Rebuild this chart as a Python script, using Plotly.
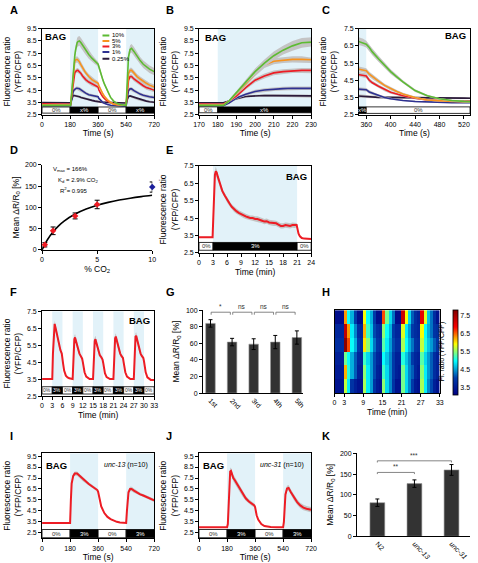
import plotly.graph_objects as go

W, H = 478, 563
FONT = "Liberation Sans, Arial, sans-serif"
SHADE = "#e2f2f9"
BANDC = "#c4c4c4"

# ---------------- Panels A-C : CO2 steps (time in s) ----------------
A_t = [0, 100, 170, 180, 183, 186, 190, 195, 200, 205, 210, 215, 220, 225, 230, 240, 250, 260, 280, 300, 320, 340,
       355, 360, 365, 370, 380, 390, 400, 410, 420, 440, 460, 480, 500, 520, 540, 545, 550, 555, 565, 575, 590,
       610, 630, 650, 670, 690, 720]
A_green = [3.25, 3.25, 3.22, 3.2, 3.25, 3.6, 4.3, 5.2, 6.0, 6.7, 7.3, 7.75, 8.1, 8.35, 8.45, 8.5, 8.35, 8.15, 7.75, 7.4, 7.1, 6.85,
           6.7, 6.6, 6.4, 6.15, 5.75, 5.35, 5.0, 4.7, 4.4, 3.9, 3.6, 3.42, 3.32, 3.27, 3.25, 4.6, 6.2, 7.2, 7.8, 7.9, 7.65,
           7.25, 6.9, 6.6, 6.4, 6.2, 6.0]
A_orange = [3.3, 3.3, 3.3, 3.3, 3.3, 3.6, 4.2, 5.0, 5.85, 6.55, 6.85, 6.95, 7.0, 7.0, 6.95, 6.8, 6.55, 6.3, 5.9, 5.6, 5.35, 5.2,
            5.1, 5.05, 4.85, 4.7, 4.45, 4.2, 4.0, 3.85, 3.7, 3.5, 3.35, 3.3, 3.27, 3.25, 3.25, 4.1, 5.3, 5.85, 6.1, 6.1, 5.9,
            5.6, 5.4, 5.2, 5.05, 4.9, 4.75]
A_red = [3.38, 3.38, 3.36, 3.35, 3.35, 3.6, 4.0, 4.7, 5.3, 5.65, 5.9, 6.0, 6.08, 6.1, 6.1, 6.0, 5.85, 5.65, 5.35, 5.15, 5.0, 4.88,
         4.8, 4.75, 4.5, 4.35, 4.15, 3.95, 3.8, 3.7, 3.6, 3.45, 3.36, 3.32, 3.3, 3.3, 3.3, 3.9, 4.8, 5.3, 5.6, 5.6, 5.4,
         5.2, 5.0, 4.85, 4.7, 4.6, 4.5]
A_blue = [3.22, 3.22, 3.2, 3.2, 3.22, 3.45, 3.85, 4.15, 4.38, 4.5, 4.58, 4.62, 4.65, 4.65, 4.65, 4.6, 4.52, 4.42, 4.25, 4.12, 4.05, 4.0,
          3.97, 3.95, 3.82, 3.75, 3.6, 3.5, 3.42, 3.36, 3.32, 3.26, 3.23, 3.21, 3.2, 3.2, 3.2, 3.6, 4.15, 4.45, 4.6, 4.6, 4.45,
          4.3, 4.17, 4.07, 4.0, 3.95, 3.9]
A_black = [3.48, 3.48, 3.46, 3.45, 3.46, 3.6, 3.8, 3.98, 4.05, 4.06, 4.05, 4.04, 4.02, 4.0, 3.98, 3.95, 3.9, 3.86, 3.78, 3.72, 3.66, 3.6,
           3.56, 3.54, 3.52, 3.51, 3.5, 3.5, 3.5, 3.5, 3.5, 3.49, 3.48, 3.47, 3.47, 3.46, 3.45, 3.65, 3.88, 3.98, 4.02, 3.98, 3.88,
           3.78, 3.7, 3.64, 3.6, 3.55, 3.5]
A_green_sem = [0.05] * 5 + [0.1, 0.15, 0.2, 0.25, 0.3] + [0.35, 0.35, 0.4, 0.4, 0.4, 0.4] + [0.4, 0.4, 0.38, 0.35, 0.3, 0.25, 0.22] + \
              [0.2, 0.2, 0.2, 0.18, 0.16, 0.14, 0.12, 0.1] + [0.08, 0.06, 0.05, 0.05, 0.05, 0.05] + \
              [0.15, 0.3, 0.35, 0.35, 0.35, 0.35] + [0.32, 0.3, 0.3, 0.3, 0.3, 0.3]
A_orange_sem = [0.05] * 5 + [0.1, 0.15, 0.2, 0.22, 0.25] + [0.25] * 6 + [0.25, 0.25, 0.22, 0.2, 0.2, 0.18, 0.16] + \
               [0.15, 0.15, 0.14, 0.12, 0.1, 0.09, 0.08, 0.07] + [0.06, 0.05, 0.05, 0.05, 0.05, 0.05] + \
               [0.12, 0.2, 0.22, 0.22, 0.22, 0.22] + [0.2] * 6
A_red_sem = [0.05] * 5 + [0.1, 0.12, 0.15, 0.18, 0.2] + [0.2] * 6 + [0.2, 0.2, 0.2, 0.18, 0.18, 0.16, 0.15] + \
            [0.14, 0.13, 0.12, 0.1, 0.09, 0.08, 0.07, 0.06] + [0.05] * 6 + [0.1, 0.15, 0.18, 0.18, 0.18, 0.18] + [0.17] * 6
A_blue_sem = [0.04] * 5 + [0.08, 0.1, 0.12, 0.15, 0.15] + [0.15] * 6 + [0.15, 0.15, 0.14, 0.13, 0.12, 0.12, 0.11] + \
             [0.1, 0.1, 0.09, 0.08, 0.07, 0.06, 0.05, 0.05] + [0.04] * 6 + [0.08, 0.12, 0.14, 0.14, 0.14, 0.14] + [0.13] * 6
A_black_sem = [0.04] * 5 + [0.06, 0.08, 0.1, 0.1, 0.1] + [0.1] * 6 + [0.1] * 7 + [0.08] * 8 + [0.05] * 6 + \
              [0.06, 0.08, 0.1, 0.1, 0.1, 0.1] + [0.09] * 6
A_names = ["10%", "5%", "3%", "1%", "0.25%"]

A_stim_edges = [0, 180, 360, 540, 720]
A_stim_labels = ["0%", "x%", "0%", "x%"]
B_stim_edges = [170, 180, 230]
B_stim_labels = ["0%", "x%"]
C_stim_edges = [348, 360, 530]
C_stim_labels = ["x%", "0%"]

# ---------------- Panel D : dose response ----------------
D_x = [0.25, 1, 3, 5]
D_y = [12, 45, 80, 107]
D_err = [5, 9, 7, 10]
D_x10 = [10]
D_y10 = [148]
D_err10 = [12]
D_fit_x = [0, 0.25, 0.5, 1, 1.5, 2, 3, 4, 5, 6, 7, 8, 9, 10]
D_fit_y = [0, 13.2, 24.4, 42.6, 56.7, 67.8, 84.4, 96.2, 105.1, 111.9, 117.4, 121.8, 125.5, 128.7]

# ---------------- Panel E : long 3% step (min) ----------------
E_t = [0, 2.9, 3.05, 3.2, 3.4, 3.6, 3.8, 4.0, 4.3, 4.6,
       5.0, 5.5, 6.0, 6.5, 7.0, 7.5, 8.0, 8.5, 9.0, 9.5, 10.0, 10.5, 11.0, 11.5, 12.0, 12.5, 13.0, 13.5, 14.0, 14.5,
       15.0, 15.5, 16.0, 16.5, 17.0, 17.5, 18.0, 18.5, 19.0, 19.5, 20.0, 20.5,
       20.9, 21.1, 21.3, 21.6, 22.0, 22.5, 24.0]
E_v = [3.4, 3.4, 4.5, 6.2, 7.0, 7.2, 7.1, 6.9, 6.6, 6.3,
       6.05, 5.8, 5.55, 5.35, 5.15, 5.0, 4.9, 4.8, 4.72, 4.65, 4.6, 4.55, 4.5, 4.5, 4.45, 4.45, 4.38, 4.35, 4.3, 4.32,
       4.25, 4.22, 4.2, 4.2, 4.12, 4.05, 4.05, 4.1, 4.08, 4.05, 4.1, 4.08,
       4.1, 3.85, 3.6, 3.45, 3.35, 3.32, 3.3]
E_sem = [0.03, 0.03, 0.1, 0.2, 0.25, 0.25, 0.22, 0.2, 0.18, 0.16] + [0.15] * 32 + [0.12, 0.1, 0.08, 0.05, 0.04, 0.03, 0.03]
E_stim_edges = [0, 3, 21, 24]
E_stim_labels = ["0%", "3%", "0%"]

# ---------------- Panel F : repeated pulses (min) ----------------
F_t = [0, 2.9, 3.0, 3.2, 3.5, 3.7, 4.0, 4.5, 5.0, 5.4, 5.8, 6.0, 6.2, 6.5, 7.0, 7.5, 8.0, 9.0,
       9.2, 9.5, 9.7, 10.0, 10.5, 11.0, 11.4, 11.8, 12.0, 12.2, 12.5, 13.0, 13.5, 14.0, 15.0,
       15.2, 15.5, 15.7, 16.0, 16.5, 17.0, 17.4, 17.8, 18.0, 18.2, 18.5, 19.0, 19.5, 20.0, 21.0,
       21.2, 21.5, 21.7, 22.0, 22.5, 23.0, 23.4, 23.8, 24.0, 24.2, 24.5, 25.0, 25.5, 26.0, 27.0,
       27.2, 27.5, 27.7, 28.0, 28.5, 29.0, 29.4, 29.8, 30.0, 30.2, 30.5, 31.0, 31.5, 32.0, 33.0]
F_v = [3.5, 3.5, 3.5, 5.0, 6.6, 6.75, 6.5, 5.95, 5.45, 5.2, 5.0, 4.8, 4.4, 4.0, 3.7, 3.6, 3.55, 3.5,
       4.8, 5.85, 5.95, 5.7, 5.3, 5.0, 4.85, 4.7, 4.5, 4.2, 3.9, 3.65, 3.55, 3.5, 3.5,
       4.8, 5.75, 5.85, 5.6, 5.2, 4.9, 4.8, 4.65, 4.45, 4.15, 3.85, 3.62, 3.55, 3.5, 3.5,
       4.9, 5.9, 6.0, 5.75, 5.3, 5.0, 4.85, 4.75, 4.5, 4.2, 3.9, 3.65, 3.55, 3.5, 3.5,
       5.0, 6.0, 6.05, 5.8, 5.3, 5.0, 4.85, 4.75, 4.55, 4.2, 3.9, 3.6, 3.5, 3.45, 3.45]
F_sem = [0.03, 0.03, 0.03, 0.1, 0.2, 0.2, 0.18, 0.15, 0.12, 0.1, 0.1, 0.1, 0.08, 0.06, 0.04, 0.03, 0.03, 0.03,
         0.1, 0.2, 0.2, 0.18, 0.15, 0.12, 0.1, 0.1, 0.1, 0.08, 0.06, 0.04, 0.03, 0.03, 0.03,
         0.1, 0.2, 0.2, 0.18, 0.15, 0.12, 0.1, 0.1, 0.1, 0.08, 0.06, 0.04, 0.03, 0.03, 0.03,
         0.1, 0.2, 0.2, 0.18, 0.15, 0.12, 0.1, 0.1, 0.1, 0.08, 0.06, 0.04, 0.03, 0.03, 0.03,
         0.1, 0.2, 0.2, 0.18, 0.15, 0.12, 0.1, 0.1, 0.1, 0.08, 0.06, 0.04, 0.03, 0.03, 0.03]
F_stim_edges = [0, 3, 6, 9, 12, 15, 18, 21, 24, 27, 30, 33]
F_stim_labels = ["0%", "3%", "0%", "3%", "0%", "3%", "0%", "3%", "0%", "3%", "0%"]

# ---------------- Panel G : pulse responses ----------------
G_labels = ["1st", "2nd", "3rd", "4th", "5th"]
G_vals = [84, 61.5, 59, 61.5, 67]
G_err = [4.5, 4.5, 6.5, 8, 8]
G_sig = [(0, 1, "*"), (1, 2, "ns"), (2, 3, "ns"), (3, 4, "ns")]

# ---------------- Panel H : heatmap (min) ----------------
H_edges = list(range(34))
H_z = [
    [3.3, 3.3, 3.3, 6.3, 5.0, 4.6, 4.0, 3.3, 3.3, 5.9, 5.0, 4.6, 4.0, 3.3, 3.3, 6.6, 5.4, 4.8, 4.3, 3.3, 3.3, 7.2, 5.9, 4.8, 4.2, 3.8, 3.6, 7.0, 5.8, 4.7, 4.3, 3.8, 3.4],
    [3.7, 3.7, 3.7, 7.3, 6.3, 4.9, 4.4, 3.8, 3.7, 6.2, 5.2, 4.7, 4.1, 3.8, 3.7, 5.5, 5.0, 4.6, 4.0, 3.7, 3.7, 5.8, 4.9, 4.5, 4.0, 3.8, 3.7, 5.9, 5.0, 4.6, 4.3, 3.9, 3.8],
    [3.8, 3.8, 3.8, 7.7, 6.6, 5.0, 4.6, 4.0, 3.8, 6.0, 5.5, 4.8, 4.3, 3.9, 3.8, 5.3, 4.9, 4.5, 4.1, 3.8, 3.8, 5.6, 5.0, 4.6, 4.3, 3.9, 3.8, 5.7, 5.1, 4.7, 4.5, 4.2, 3.9],
    [3.6, 3.6, 3.6, 5.4, 5.0, 4.6, 4.2, 3.7, 3.6, 5.2, 4.8, 4.5, 4.1, 3.7, 3.6, 5.0, 4.7, 4.4, 4.0, 3.6, 3.6, 5.1, 4.7, 4.4, 4.0, 3.7, 3.6, 5.3, 4.8, 4.5, 4.2, 3.8, 3.6],
    [3.5, 3.5, 3.5, 6.2, 5.1, 4.6, 4.2, 3.6, 3.5, 5.5, 4.9, 4.5, 4.1, 3.6, 3.5, 5.2, 4.8, 4.4, 4.0, 3.6, 3.5, 5.4, 4.8, 4.4, 4.2, 3.7, 3.5, 5.5, 4.9, 4.5, 4.2, 3.8, 3.6],
    [3.4, 3.4, 3.4, 5.7, 4.9, 3.9, 3.6, 3.4, 3.4, 5.6, 4.9, 4.5, 3.9, 3.5, 3.4, 5.5, 4.8, 4.4, 3.9, 3.4, 3.4, 5.4, 4.8, 4.4, 4.0, 3.5, 3.4, 5.6, 4.9, 4.4, 4.1, 3.6, 3.4],
]
H_rows = [1, 2, 3, 4, 5, 6]
H_ticks = [0, 3, 9, 15, 21, 27, 33]
H_cbar_ticks = [3.5, 4.5, 5.5, 6.5, 7.5]

# ---------------- Panels I, J : mutants (s) ----------------
I_t = [0, 178, 180, 185, 190, 200, 210, 225, 240, 260, 280, 300, 320, 340, 355, 360, 365, 370, 380, 400, 420, 440,
       460, 480, 500, 520, 538, 540, 545, 550, 555, 565, 575, 590, 610, 630, 650, 670, 690, 720]
I_v = [3.4, 3.4, 3.4, 5.5, 7.0, 7.7, 7.9, 7.9, 7.7, 7.4, 7.15, 6.95, 6.75, 6.55, 6.4, 6.25, 5.85, 5.45, 4.9, 4.3, 3.95, 3.75,
       3.6, 3.5, 3.45, 3.42, 3.4, 3.4, 4.5, 5.6, 6.2, 6.5, 6.5, 6.35, 6.15, 6.0, 5.9, 5.78, 5.65, 5.45]
I_sem = [0.03, 0.03, 0.03, 0.1, 0.15, 0.2, 0.2, 0.2, 0.2, 0.18, 0.16, 0.15, 0.15, 0.14, 0.13, 0.12, 0.1, 0.1, 0.08, 0.07, 0.06, 0.05,
         0.04, 0.04, 0.03, 0.03, 0.03, 0.03, 0.1, 0.15, 0.2, 0.2, 0.2, 0.2, 0.18, 0.16, 0.15, 0.15, 0.15, 0.15]
J_t = [0, 178, 180, 185, 190, 195, 200, 205, 210, 220, 230, 240, 260, 280, 300, 320, 340, 355, 360, 365, 370, 380, 400,
       420, 440, 460, 500, 538, 540, 545, 550, 555, 565, 575, 590, 610, 630, 650, 670, 690, 720]
J_v = [3.0, 3.0, 3.0, 3.3, 5.5, 7.3, 8.1, 8.15, 7.9, 7.5, 7.3, 7.05, 6.55, 6.05, 5.65, 5.35, 5.15, 5.0, 4.85, 4.45, 4.1, 3.7, 3.3,
       3.12, 3.05, 3.02, 3.0, 3.0, 3.0, 3.5, 5.0, 6.0, 6.55, 6.6, 6.2, 5.7, 5.3, 5.0, 4.8, 4.7, 4.6]
J_sem = [0.03, 0.03, 0.03, 0.1, 0.2, 0.3, 0.3, 0.3, 0.3, 0.3, 0.3, 0.3, 0.28, 0.25, 0.22, 0.2, 0.2, 0.18, 0.16, 0.12, 0.1, 0.08, 0.05,
         0.04, 0.03, 0.03, 0.03, 0.03, 0.03, 0.1, 0.2, 0.25, 0.25, 0.25, 0.25, 0.25, 0.25, 0.25, 0.25, 0.25, 0.25]
IJ_stim_edges = [0, 180, 360, 540, 720]
IJ_stim_labels = ["0%", "3%", "0%", "3%"]

# ---------------- Panel K : mutant response amplitudes ----------------
K_labels = ["N2", "<i>unc-13</i>", "<i>unc-31</i>"]
K_vals = [81, 127, 160]
K_err = [9, 9, 13]
K_sig = [(0, 1, "**", 154), (0, 2, "***", 182)]

# sanity checks
for s in (A_green, A_orange, A_red, A_blue, A_black, A_green_sem, A_orange_sem, A_red_sem, A_blue_sem, A_black_sem):
    assert len(s) == len(A_t), len(s)
assert len(E_v) == len(E_t) == len(E_sem)
assert len(F_v) == len(F_t) == len(F_sem)
assert len(I_v) == len(I_t) == len(I_sem)
assert len(J_v) == len(J_t) == len(J_sem)

# =====================================================================
fig = go.Figure()
layout_axes = {}
shapes = []
annotations = []


def ref(i, k):
    return k if i == 1 else f"{k}{i}"


def px(x, y):
    return x / W, 1 - y / H


def ttl(text, standoff=3, size=8.5):
    return dict(text=text, font=dict(size=size, family=FONT, color="black"), standoff=standoff)


def set_axes(i, xpx, ypx, xopts, yopts, framed=True):
    base = dict(showline=True, linecolor="black", linewidth=0.8, ticks="outside", ticklen=3, tickwidth=0.8,
                tickcolor="black", showgrid=False, zeroline=False, mirror=framed,
                tickfont=dict(size=7, family=FONT, color="black"))
    xa = dict(base, domain=[xpx[0] / W, xpx[1] / W], anchor=ref(i, "y"))
    xa.update(xopts)
    ya = dict(base, domain=[1 - ypx[1] / H, 1 - ypx[0] / H], anchor=ref(i, "x"))
    ya.update(yopts)
    layout_axes["xaxis" if i == 1 else f"xaxis{i}"] = xa
    layout_axes["yaxis" if i == 1 else f"yaxis{i}"] = ya


def band(i, x, y, s, color=BANDC):
    up = [a + b for a, b in zip(y, s)]
    lo = [a - b for a, b in zip(y, s)]
    fig.add_trace(go.Scatter(x=list(x) + list(x)[::-1], y=up + lo[::-1], fill="toself", fillcolor=color,
                             line=dict(width=0), mode="lines", hoverinfo="skip", showlegend=False,
                             xaxis=ref(i, "x"), yaxis=ref(i, "y")))


def line(i, x, y, color, width=1.6, name=None):
    fig.add_trace(go.Scatter(x=x, y=y, mode="lines", line=dict(color=color, width=width), name=name,
                             showlegend=False, xaxis=ref(i, "x"), yaxis=ref(i, "y")))


def stim(i, edges, labels, y0, y1, shade_top, fs=6):
    for k, lab in enumerate(labels):
        x0, x1 = edges[k], edges[k + 1]
        on = lab != "0%"
        if on:
            shapes.append(dict(type="rect", xref=ref(i, "x"), yref=ref(i, "y"), x0=x0, x1=x1, y0=y1, y1=shade_top,
                               fillcolor=SHADE, line=dict(width=0), layer="below"))
        shapes.append(dict(type="rect", xref=ref(i, "x"), yref=ref(i, "y"), x0=x0, x1=x1, y0=y0, y1=y1,
                           fillcolor="black" if on else "white", line=dict(color="black", width=0.8), layer="above"))
        annotations.append(dict(xref=ref(i, "x"), yref=ref(i, "y"), x=(x0 + x1) / 2, y=(y0 + y1) / 2, text=lab,
                                showarrow=False, font=dict(size=fs, family=FONT, color="white" if on else "#333333")))


def label(x, y, text, size=9, bold=True, anchor="center"):
    xx, yy = px(x, y)
    t = f"<b>{text}</b>" if bold else text
    annotations.append(dict(xref="paper", yref="paper", x=xx, y=yy, text=t, showarrow=False, xanchor=anchor,
                            yanchor="middle", font=dict(size=size, family=FONT, color="black")))


COLORS = ["#5dbb33", "#f7931e", "#ed1c24", "#2e3192", "#2b1a3a"]
A_series = [A_green, A_orange, A_red, A_blue, A_black]
A_sems = [A_green_sem, A_orange_sem, A_red_sem, A_blue_sem, A_black_sem]

fl_title = "Fluorescence ratio<br>(YFP/CFP)"
yt_95 = [2.5, 3.5, 4.5, 5.5, 6.5, 7.5, 8.5, 9.5]
yt_75 = [2.5, 3.5, 4.5, 5.5, 6.5, 7.5]

# ---- A, B, C ----
for i in (1, 2, 3):
    for k in (4, 3, 2, 1, 0):
        band(i, A_t, A_series[k], A_sems[k])
        line(i, A_t, A_series[k], COLORS[k], 1.6, A_names[k])

set_axes(1, (37, 152), (25, 112),
         dict(range=[0, 720], tickvals=[0, 180, 360, 540, 720], title=ttl("Time (s)")),
         dict(range=[2.5, 9.5], tickvals=yt_95, title=ttl(fl_title, 4)))
stim(1, A_stim_edges, A_stim_labels, 2.62, 3.12, 9.5)
set_axes(2, (198, 313), (25, 112),
         dict(range=[170, 230], tickvals=[170, 180, 190, 200, 210, 220, 230], title=ttl("Time (s)")),
         dict(range=[2.5, 9.5], tickvals=yt_95, title=ttl(fl_title, 4)))
stim(2, B_stim_edges, B_stim_labels, 2.65, 3.13, 9.5)
set_axes(3, (362, 476), (25, 112),
         dict(range=[348, 530], tickvals=[360, 400, 440, 480, 520], title=ttl("Time (s)")),
         dict(range=[2.5, 7.5], tickvals=yt_75, title=ttl(fl_title, 4)))
stim(3, C_stim_edges, C_stim_labels, 2.57, 2.95, 7.5)

# legend for A
A_leg_y = [8.95, 8.5, 8.05, 7.6, 7.05]
for k in range(5):
    shapes.append(dict(type="line", xref="x", yref="y", x0=388, x1=432, y0=A_leg_y[k], y1=A_leg_y[k],
                       line=dict(color=COLORS[k], width=2)))
    annotations.append(dict(xref="x", yref="y", x=438, y=A_leg_y[k], text=A_names[k], showarrow=False,
                            xanchor="left", font=dict(size=6, family=FONT, color="black")))

# ---- D ----
set_axes(4, (37, 150), (163, 249),
         dict(range=[0, 10], tickvals=[0, 5, 10], title=ttl("% CO<sub>2</sub>")),
         dict(range=[0, 200], tickvals=[0, 50, 100, 150, 200], title=ttl("Mean ΔR/R<sub>0</sub> [%]", 4)),
         framed=False)
fig.add_trace(go.Scatter(x=D_fit_x, y=D_fit_y, mode="lines", line=dict(color="black", width=1.6, shape="spline"),
                         showlegend=False, xaxis="x4", yaxis="y4"))
fig.add_trace(go.Scatter(x=D_x, y=D_y, mode="markers", marker=dict(color="#ed1c24", size=5, symbol="diamond"),
                         error_y=dict(type="data", array=D_err, color="black", thickness=1, width=2.5),
                         cliponaxis=False, showlegend=False, xaxis="x4", yaxis="y4"))
fig.add_trace(go.Scatter(x=D_x10, y=D_y10, mode="markers", marker=dict(color="#1b1f9a", size=5, symbol="diamond"),
                         error_y=dict(type="data", array=D_err10, color="black", thickness=1, width=2.5),
                         cliponaxis=False, showlegend=False, xaxis="x4", yaxis="y4"))
for (xx, yy, tx) in [(46, 168, "V<sub>max</sub> = 166%"), (51, 179, "K<sub>d</sub> = 2.9% CO<sub>2</sub>"),
                     (53, 188, "R<sup>2</sup>= 0.995")]:
    label(xx, yy, tx, size=6, bold=False, anchor="left")

# ---- E ----
band(5, E_t, E_v, E_sem)
line(5, E_t, E_v, "#ed1c24", 2)
set_axes(5, (198, 313), (164, 252),
         dict(range=[0, 24], tickvals=[0, 3, 6, 9, 12, 15, 18, 21, 24], title=ttl("Time (min)")),
         dict(range=[2.5, 7.5], tickvals=yt_75, title=ttl(fl_title, 4)))
stim(5, E_stim_edges, E_stim_labels, 2.65, 3.1, 7.5)

# ---- F ----
band(6, F_t, F_v, F_sem)
line(6, F_t, F_v, "#ed1c24", 2)
set_axes(6, (37, 152), (311, 397),
         dict(range=[0, 33], tickvals=[0, 3, 6, 9, 12, 15, 18, 21, 24, 27, 30, 33], title=ttl("Time (min)")),
         dict(range=[2.5, 7.5], tickvals=yt_75, title=ttl(fl_title, 4)))
stim(6, F_stim_edges, F_stim_labels, 2.62, 3.05, 7.5, fs=5)

# ---- G ----
fig.add_trace(go.Bar(x=list(range(len(G_vals))), y=G_vals, width=0.44,
                     marker=dict(color="#333333", line=dict(color="#999999", width=0.6)),
                     error_y=dict(type="data", array=G_err, color="black", thickness=1, width=2),
                     showlegend=False, xaxis="x7", yaxis="y7"))
set_axes(7, (202, 305), (310, 394),
         dict(range=[-0.35, 4.3], tickvals=list(range(len(G_labels))), ticktext=G_labels, tickangle=45, ticks=""),
         dict(range=[0, 100], tickvals=[0, 20, 40, 60, 80, 100], title=ttl("Mean ΔR/R<sub>0</sub> [%]", 4)),
         framed=False)
for a, b, t in G_sig:
    x0, x1, yb = a + 0.03, b - 0.08, 97.5
    shapes.append(dict(type="path", xref="x7", yref="y7", path=f"M {x0},{yb - 3} L {x0},{yb} L {x1},{yb} L {x1},{yb - 3}",
                       line=dict(color="#666666", width=0.8)))
    annotations.append(dict(xref="x7", yref="y7", x=(x0 + x1) / 2, y=yb, yanchor="bottom", text=t, showarrow=False,
                            font=dict(size=6.5, family=FONT, color="#333333")))

# ---- H ----
fig.add_trace(go.Heatmap(z=H_z, x=H_edges, y=H_rows, colorscale="Jet", zmin=3.1, zmax=7.8, xaxis="x8", yaxis="y8",
                         colorbar=dict(x=459 / W, xanchor="left", y=1 - 396 / H, yanchor="bottom", len=86 / H,
                                       lenmode="fraction", thickness=5, thicknessmode="pixels", tickvals=H_cbar_ticks,
                                       tickfont=dict(size=7, family=FONT, color="black"), outlinewidth=0.8,
                                       outlinecolor="black", ticks="", xpad=0, ypad=0)))
set_axes(8, (337, 445), (310, 394),
         dict(range=[0, 33], tickvals=H_ticks, title=ttl("Time (min)")),
         dict(range=[6.5, 0.5], showticklabels=False, ticks=""))
xx, yy = px(453, 352)
annotations.append(dict(xref="paper", yref="paper", x=xx, y=yy, text="Fl. ratio (YFP/CFP)", textangle=-90,
                        showarrow=False, font=dict(size=7, family=FONT, color="black")))

# ---- I, J ----
band(9, I_t, I_v, I_sem)
line(9, I_t, I_v, "#ed1c24", 2)
set_axes(9, (37, 152), (455, 541),
         dict(range=[0, 720], tickvals=[0, 180, 360, 540, 720], title=ttl("Time (s)")),
         dict(range=[2.0, 9.75], tickvals=yt_95, title=ttl(fl_title, 4)))
stim(9, IJ_stim_edges, IJ_stim_labels, 2.05, 2.8, 9.75)

band(10, J_t, J_v, J_sem)
line(10, J_t, J_v, "#ed1c24", 2)
set_axes(10, (198, 313), (455, 541),
         dict(range=[0, 720], tickvals=[0, 180, 360, 540, 720], title=ttl("Time (s)")),
         dict(range=[2.0, 9.75], tickvals=yt_95, title=ttl(fl_title, 4)))
stim(10, IJ_stim_edges, IJ_stim_labels, 2.05, 2.8, 9.75)

# ---- K ----
fig.add_trace(go.Bar(x=list(range(len(K_vals))), y=K_vals, width=0.4,
                     marker=dict(color="#333333", line=dict(color="#999999", width=0.6)),
                     error_y=dict(type="data", array=K_err, color="black", thickness=1, width=2),
                     showlegend=False, xaxis="x11", yaxis="y11"))
set_axes(11, (360, 476), (455, 539),
         dict(range=[-0.55, 2.5], tickvals=list(range(len(K_labels))), ticktext=K_labels, tickangle=45, ticks=""),
         dict(range=[0, 200], tickvals=[0, 50, 100, 150, 200], title=ttl("Mean ΔR/R<sub>0</sub> [%]", 4)),
         framed=False)
for a, b, t, yb in K_sig:
    shapes.append(dict(type="path", xref="x11", yref="y11",
                       path=f"M {a},{yb - 4} L {a},{yb} L {b},{yb} L {b},{yb - 4}",
                       line=dict(color="#777777", width=0.9)))
    annotations.append(dict(xref="x11", yref="y11", x=(a + b) / 2, y=yb, yanchor="bottom", text=t, showarrow=False,
                            font=dict(size=6.5, family=FONT, color="#333333")))

# ---- BAG / genotype labels ----
label(51, 33, "BAG", 9.5)
label(215, 34, "BAG", 9.5)
label(461, 32, "BAG", 9.5)
label(298, 175, "BAG", 9.5)
label(137, 320, "BAG", 9.5)
label(52, 467, "BAG", 9.5)
label(213, 467, "BAG", 9.5)
label(123, 467, "<i>unc-13</i> (n=10)", 7, bold=False)
label(283, 467, "<i>unc-31</i> (n=10)", 7, bold=False)

# ---- panel letters ----
for (xx, yy, t) in [(2, 6, "A"), (162, 6, "B"), (322, 6, "C"), (2, 148, "D"), (162, 148, "E"),
                    (2, 292, "F"), (162, 292, "G"), (322, 292, "H"), (2, 437, "I"), (162, 437, "J"), (322, 437, "K")]:
    label(xx, yy, t, 11, anchor="left")

fig.update_layout(width=W, height=H, margin=dict(l=0, r=0, t=0, b=0), paper_bgcolor="white", plot_bgcolor="white",
                  showlegend=False, font=dict(family=FONT, color="black"), shapes=shapes, annotations=annotations,
                  **layout_axes)
fig.write_html("out.html", config={"displayModeBar": False},
               post_script="document.body.style.margin='0';document.body.style.overflow='hidden';")
